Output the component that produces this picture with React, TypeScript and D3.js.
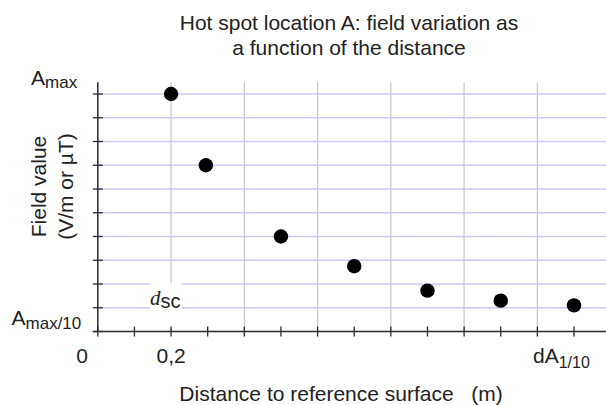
import React from "react";
import * as d3 from "d3";

const distances = [0.2, 0.295, 0.5, 0.7, 0.9, 1.1, 1.3];
const fieldValues = [10, 7.0, 4.0, 2.75, 1.72, 1.3, 1.1];
const xTickValues = d3.range(0, 14).map((i) => i / 10);
const xGridValues = [0.2, 0.4, 0.6, 0.8, 1.0, 1.2];
const yTickValues = d3.range(0, 11);
const titleLines = ["Hot spot location A: field variation as", "a function of the distance"];
const yTitleLines = ["Field value", "(V/m or µT)"];
const xTitle = "Distance to reference surface   (m)";

const W = 606;
const H = 405;
const FONT = "'Liberation Sans', Arial, sans-serif";

export default function App() {
  const x = d3.scaleLinear().domain([0, 1.3]).range([97.8, 574]);
  const y = d3.scaleLinear().domain([0, 10]).range([331.5, 94]);
  const xEnd = W;
  const yTop = y(10.5);
  const axisColor = "#2a2a2a";
  const textColor = "#222";

  return (
    <svg width={W} height={H} style={{ position: "absolute", left: 0, top: 0, background: "#fff" }} fontFamily={FONT}>
      <rect x={0} y={0} width={W} height={H} fill="#fff" />
      {/* title */}
      {titleLines.map((t, i) => (
        <text key={t} x={349} y={30 + i * 24.5} textAnchor="middle" fontSize={21} fill={textColor}>
          {t}
        </text>
      ))}
      {/* horizontal grid */}
      {yTickValues.filter((v) => v > 0).map((v) => (
        <line key={"hg" + v} x1={x(0)} x2={xEnd} y1={y(v)} y2={y(v)} stroke="#cacaf4" strokeWidth={1.3} />
      ))}
      {/* vertical grid */}
      {xGridValues.map((v) => (
        <line key={"vg" + v} x1={x(v)} x2={x(v)} y1={yTop} y2={y(0)} stroke="#c6c6c6" strokeWidth={1.2} />
      ))}
      {/* d_sc label box */}
      <rect x={150} y={283} width={32} height={45} fill="#fff" />
      <text x={150} y={305} fill={textColor}>
        <tspan fontSize={21} fontFamily="'Liberation Serif', 'Times New Roman', serif" fontStyle="italic">d</tspan>
        <tspan fontSize={20} dy={3}>sc</tspan>
      </text>
      {/* axes */}
      <line x1={x(0)} x2={x(0)} y1={yTop} y2={y(0)} stroke={axisColor} strokeWidth={1.5} />
      <line x1={x(0) - 5} x2={xEnd} y1={y(0)} y2={y(0)} stroke={axisColor} strokeWidth={1.5} />
      {yTickValues.map((v) => (
        <line key={"yt" + v} x1={x(0) - 5} x2={x(0) + 5} y1={y(v)} y2={y(v)} stroke={axisColor} strokeWidth={1.3} />
      ))}
      {xTickValues.map((v) => (
        <line key={"xt" + v} x1={x(v)} x2={x(v)} y1={y(0) - 5} y2={y(0) + 5} stroke={axisColor} strokeWidth={1.3} />
      ))}
      {/* points */}
      {distances.map((d, i) => (
        <circle key={"p" + i} cx={x(d)} cy={y(fieldValues[i])} r={7.2} fill="#000" />
      ))}
      {/* y labels */}
      <text x={31} y={85} fontSize={21} fill={textColor}>
        A<tspan fontSize={17} dy={3}>max</tspan>
      </text>
      <text x={11.5} y={325} fontSize={21} fill={textColor}>
        A<tspan fontSize={17} dy={3.5}>max/10</tspan>
      </text>
      {/* x labels */}
      <text x={82} y={363} textAnchor="middle" fontSize={21} fill={textColor}>0</text>
      <text x={x(0.2)} y={363} textAnchor="middle" fontSize={21} fill={textColor}>0,2</text>
      <text x={533} y={363} fontSize={21} fill={textColor}>
        dA<tspan fontSize={16} dy={5}>1/10</tspan>
      </text>
      {/* axis titles */}
      <text x={341} y={401} textAnchor="middle" fontSize={21} fill={textColor} style={{ whiteSpace: "pre" }}>
        {xTitle}
      </text>
      {yTitleLines.map((t, i) => (
        <text
          key={t}
          transform={`translate(${46 + i * 27},${186.5}) rotate(-90)`}
          textAnchor="middle"
          fontSize={21}
          fill={textColor}
        >
          {t}
        </text>
      ))}
    </svg>
  );
}
